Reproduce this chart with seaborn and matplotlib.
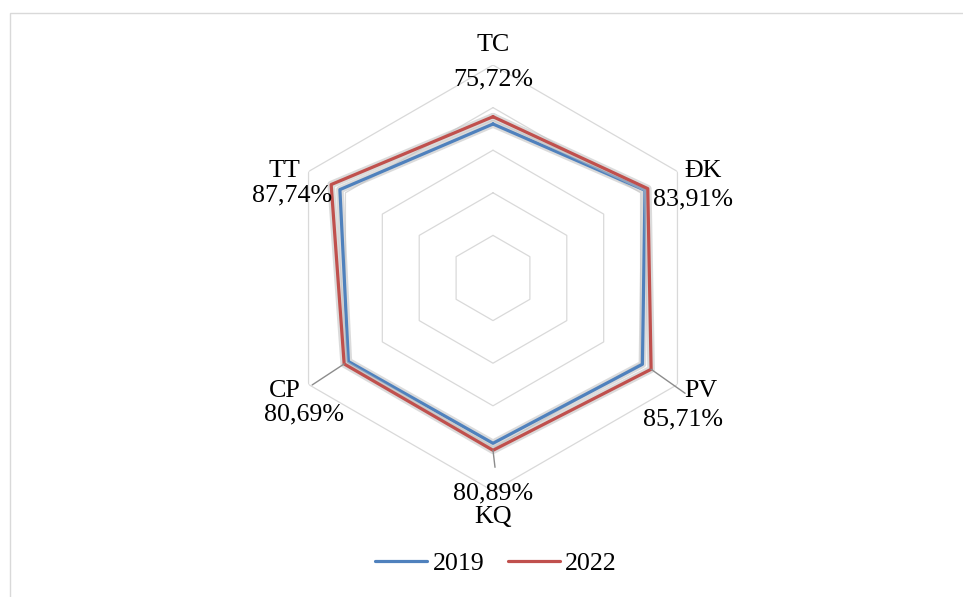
import numpy as np
import pandas as pd
import matplotlib
matplotlib.use("Agg")
import matplotlib.pyplot as plt
import matplotlib.patheffects as pe
from matplotlib.patches import Rectangle
from matplotlib.lines import Line2D
import seaborn as sns

# Criteria (clockwise from the top) and scores for each survey year
categories = ["TC", "ĐK", "PV", "KQ", "CP", "TT"]
scores_2019 = [0.723, 0.824, 0.810, 0.776, 0.784, 0.830]
scores_2022 = [0.7572, 0.8391, 0.8571, 0.8089, 0.8069, 0.8774]
value_labels = ["75,72%", "83,91%", "85,71%", "80,89%", "80,69%", "87,74%"]
grid_levels = [0.2, 0.4, 0.6, 0.8, 1.0]
years = ["2019", "2022"]
colors = {"2019": "#4F81BD", "2022": "#C0504D"}

sns.set_style("white")
plt.rcParams["font.family"] = ["Liberation Serif", "DejaVu Serif"]
plt.rcParams["text.color"] = "black"
FS = 18.7

W, H = 963, 597
fig = plt.figure(figsize=(W / 100, H / 100), dpi=100)

# Outer chart frame
fig.patches.append(Rectangle((9.5 / W, -0.01), 1.0, 1 - 12.5 / H + 0.01,
                             transform=fig.transFigure, fill=False,
                             edgecolor="#D9D9D9", lw=1.0))

cx, cy, R = 493, 278, 213
ax = fig.add_axes([(cx - R) / W, (H - cy - R) / H, 2 * R / W, 2 * R / H],
                  projection="polar")
ax.set_theta_offset(np.pi / 2)
ax.set_theta_direction(-1)
ax.set_ylim(0, 1)
ax.set_axis_off()

n = len(categories)
theta = np.linspace(0, 2 * np.pi, n, endpoint=False)
theta_closed = np.append(theta, 2 * np.pi)

# Hexagonal gridlines
for lvl in grid_levels:
    ax.plot(theta_closed, [lvl] * (n + 1), color="#D9D9D9", lw=0.9, zorder=1)

# Long-form data, each polygon closed back on its first criterion
rows = []
for year, vals in zip(years, [scores_2019, scores_2022]):
    closed = list(vals) + [vals[0]]
    for t, v in zip(theta_closed, closed):
        rows.append({"theta": t, "score": v, "year": year})
df = pd.DataFrame(rows)

halo = [pe.Stroke(linewidth=5.5, foreground="#BFBFBF", alpha=0.55), pe.Normal()]
sns.lineplot(data=df, x="theta", y="score", hue="year", hue_order=years,
             palette=colors, sort=False, estimator=None, lw=2.3,
             path_effects=halo, ax=ax, zorder=3, legend=False)

# Data labels for 2022: (name offset, value offset) in pixels from the vertex
offsets = {
    "TC": ((0, 75 - 9), (0, 40 - 9)),
    "ĐK": ((55, 21 - 9), (45, -8 - 9)),
    "PV": ((50, -19 - 9), (32, -47 - 9)),
    "KQ": ((0, -64 - 9), (0, -40 - 9)),
    "CP": ((-59, -24 - 9), (-40, -48 - 9)),
    "TT": ((-47, 17 - 9), (-39, -8 - 9)),
}
leaders = {"PV": (34, -24), "CP": (-32, -21), "KQ": (2, -17)}

for t, cat, v, lab in zip(theta, categories, scores_2022, value_labels):
    (nx, ny), (vx, vy) = offsets[cat]
    ax.annotate(cat, xy=(t, v), xytext=(nx, ny), textcoords="offset pixels",
                ha="center", va="baseline", fontsize=FS, color="black",
                annotation_clip=False)
    ax.annotate(lab, xy=(t, v), xytext=(vx, vy), textcoords="offset pixels",
                ha="center", va="baseline", fontsize=FS, color="black",
                annotation_clip=False)
    if cat in leaders:
        lx, ly = leaders[cat]
        ax.annotate("", xy=(t, v), xytext=(lx, ly), textcoords="offset pixels",
                    annotation_clip=False,
                    arrowprops=dict(arrowstyle="-", color="#8C8C8C", lw=1.0,
                                    shrinkA=0, shrinkB=0))

handles = [Line2D([], [], color=colors[y], lw=2.3) for y in years]
fig.legend(handles, years, loc="center", bbox_to_anchor=(496 / W, 1 - 563 / H),
           ncol=2, frameon=False, fontsize=FS, handlelength=2.0,
           handletextpad=0.2, columnspacing=0.9, labelcolor="black")

fig.savefig("out.png", dpi=100)
